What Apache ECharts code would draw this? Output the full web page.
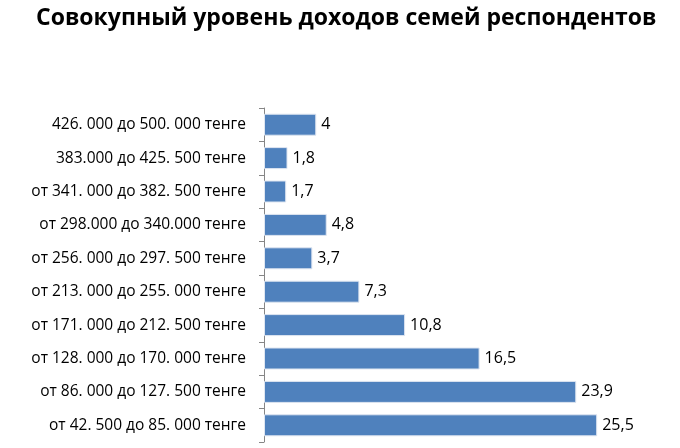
<!DOCTYPE html>
<html>
<head>
<meta charset="utf-8">
<script src="https://cdn.jsdelivr.net/npm/echarts@6/dist/echarts.min.js"></script>
<style>
  html, body { margin: 0; padding: 0; background: #fff; }
  #chart { width: 680px; height: 448px; }
</style>
</head>
<body>
<div id="chart"></div>
<script>
// категории снизу вверх
var categories = [
    'от 42. 500 до 85. 000 тенге',
    'от 86. 000 до 127. 500 тенге',
    'от 128. 000 до 170. 000 тенге',
    'от 171. 000 до 212. 500 тенге',
    'от 213. 000 до 255. 000 тенге',
    'от 256. 000 до 297. 500 тенге',
    'от 298.000 до 340.000 тенге',
    'от 341. 000 до 382. 500 тенге',
    '383.000 до 425. 500 тенге',
    '426. 000 до 500. 000 тенге'
];
var values = [25.5, 23.9, 16.5, 10.8, 7.3, 3.7, 4.8, 1.7, 1.8, 4];

var chart = echarts.init(document.getElementById('chart'));
chart.setOption({
    title: {
        text: 'Совокупный уровень доходов семей респондентов',
        left: 31,
        top: 2,
        textStyle: { fontFamily: 'Open Sans', fontWeight: 'bold', fontSize: 23, color: '#000' }
    },
    grid: { left: 264, right: 24, top: 108, bottom: 6 },
    xAxis: {
        type: 'value',
        min: 0,
        max: 30,
        show: false
    },
    yAxis: {
        type: 'category',
        data: categories,
        axisLine: { lineStyle: { color: '#868686' } },
        axisTick: { show: true, length: 5, alignWithLabel: false, lineStyle: { color: '#868686' } },
        axisLabel: { fontFamily: 'Open Sans', fontSize: 15.5, color: '#000', margin: 18 }
    },
    series: [{
        type: 'bar',
        data: values,
        barWidth: 22,
        itemStyle: { color: '#4F81BD', borderColor: '#dfe6f1', borderWidth: 1 },
        label: {
            show: true,
            position: 'right',
            distance: 5,
            fontFamily: 'Open Sans',
            fontSize: 16,
            color: '#000',
            formatter: function (p) { return String(p.value).replace('.', ','); }
        }
    }]
});
</script>
</body>
</html>
